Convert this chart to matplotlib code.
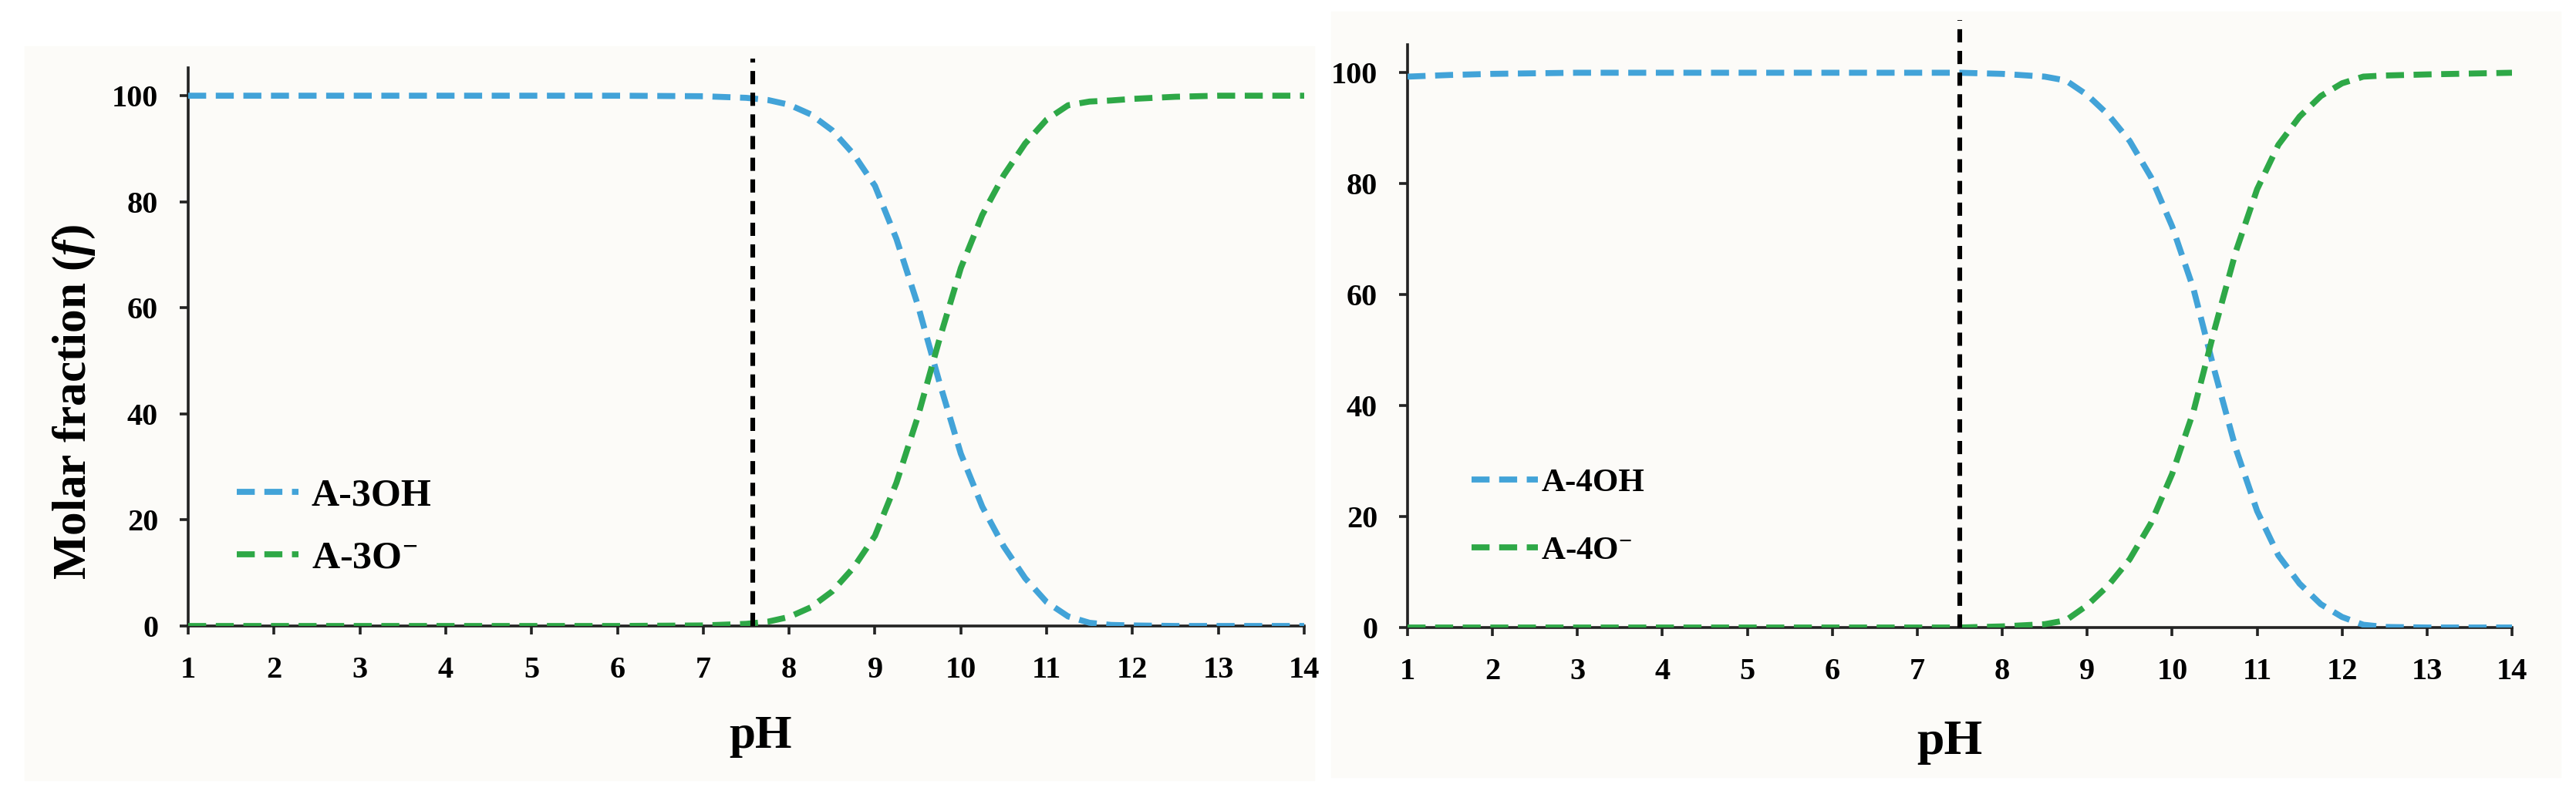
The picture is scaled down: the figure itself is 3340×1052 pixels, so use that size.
import numpy as np
import matplotlib
matplotlib.use("Agg")
from matplotlib import pyplot as plt
from matplotlib.patches import Rectangle

# ---- data ----
ph_left = [1, 2, 3, 4, 5, 6, 7, 7.5, 7.75, 8.0, 8.25, 8.5, 8.75, 9.0, 9.25, 9.5,
           9.75, 10.0, 10.25, 10.5, 10.75, 11.0, 11.25, 11.5, 11.75, 12, 12.5, 13, 14]
oh_left = [100, 100, 100, 100, 100, 100, 99.9, 99.6, 99.2, 98.3, 96.5, 93.5, 89.0, 83.0, 73.0, 60.5,
           46.0, 32.5, 22.5, 15.0, 9.0, 4.5, 1.8, 0.6, 0.2, 0.1, 0, 0, 0]
o_left = [0, 0, 0, 0, 0, 0, 0.1, 0.4, 0.8, 1.7, 3.5, 6.5, 11.0, 17.0, 27.0, 39.5,
          54.0, 67.5, 77.5, 85.0, 91.0, 95.5, 98.2, 98.9, 99.1, 99.4, 99.8, 100, 100]

ph_right = [1, 1.5, 2, 3, 4, 5, 6, 7, 7.5, 8.0, 8.5, 8.75, 9.0, 9.25, 9.5, 9.75, 10.0,
            10.25, 10.5, 10.75, 11.0, 11.25, 11.5, 11.75, 12.0, 12.25, 12.5, 13, 14]
oh_right = [99.3, 99.6, 99.8, 100, 100, 100, 100, 100, 100, 99.8, 99.3, 98.6, 96.0, 92.4, 87.7, 81.2, 72.3,
            61.1, 46.2, 32.2, 21.0, 13.0, 7.9, 4.2, 1.9, 0.5, 0.1, 0, 0]
o_right = [0, 0, 0, 0, 0, 0, 0, 0, 0, 0.2, 0.6, 1.3, 4.0, 7.6, 12.3, 18.8, 27.7,
           38.9, 53.8, 67.8, 79.0, 87.0, 92.1, 95.8, 98.1, 99.3, 99.5, 99.7, 100]

pka_line = [7.58, 7.5]
labels_left = ['A-3OH', 'A-3O$^{-}$']
labels_right = ['A-4OH', 'A-4O$^{-}$']

blue = '#42a3d8'
green = '#2ea847'
spine_col = '#222222'

plt.rcParams['font.family'] = 'Liberation Serif'
plt.rcParams['font.weight'] = 'bold'
plt.rcParams['mathtext.fontset'] = 'custom'
plt.rcParams['mathtext.rm'] = 'Liberation Serif:bold'
plt.rcParams['mathtext.it'] = 'Liberation Serif:bold:italic'
plt.rcParams['mathtext.bf'] = 'Liberation Serif:bold'

W, H = 3340, 1052
fig = plt.figure(figsize=(W / 100, H / 100), dpi=100)
fig.patch.set_facecolor('white')

# light panel backgrounds (behind the axes)
fig.patches.append(Rectangle((32 / W, 1 - 1012 / H), 1672 / W, 952 / H,
                             transform=fig.transFigure, color='#fcfbf8', zorder=-10))
fig.patches.append(Rectangle((1726 / W, 1 - 1008 / H), 1594 / W, 993 / H,
                             transform=fig.transFigure, color='#fcfbf8', zorder=-10))


def make_panel(rect, ymax, spine_top, ph, oh, o, vline, labels, leg_kw):
    ax = fig.add_axes(rect)
    ax.patch.set_alpha(0)
    dash = (0, (3.0, 1.6))
    ax.plot(ph, oh, color=blue, lw=5.6, linestyle=dash, label=labels[0], zorder=3)
    ax.plot(ph, o, color=green, lw=5.6, linestyle=dash, label=labels[1], zorder=3)
    ax.plot([vline, vline], [0, ymax], color='black', lw=4.4,
            linestyle=(0, (2.8, 1.8)), zorder=4, clip_on=False)

    ax.set_xlim(1, 14)
    ax.set_ylim(0, ymax)
    ax.set_xticks(np.arange(1, 15))
    ax.set_yticks(np.arange(0, 101, 20))
    for s in ['top', 'right']:
        ax.spines[s].set_visible(False)
    for s in ['left', 'bottom']:
        ax.spines[s].set_color(spine_col)
        ax.spines[s].set_linewidth(2.6)
    ax.spines['left'].set_bounds(0, spine_top)
    ax.tick_params(direction='out', length=8, width=2.6, color=spine_col,
                   labelsize=29, pad=20)
    for t in ax.get_xticklabels() + ax.get_yticklabels():
        t.set_fontweight('bold')

    ax.legend(frameon=False, borderpad=0, borderaxespad=0, **leg_kw)
    return ax


ax1 = make_panel([244 / W, 1 - 812 / H, 1447 / W, 736 / H], 107, 105.2,
                 ph_left, oh_left, o_left, pka_line[0], labels_left,
                 dict(loc='center left', bbox_to_anchor=(0.0435, 0.1735),
                      fontsize=36, handlelength=1.6, handletextpad=0.34,
                      labelspacing=0.7))
ax2 = make_panel([1825 / W, 1 - 814 / H, 1432 / W, 788 / H], 109.5, 105,
                 ph_right, oh_right, o_right, pka_line[1], labels_right,
                 dict(loc='center left', bbox_to_anchor=(0.058, 0.182),
                      fontsize=31, handlelength=2.0, handletextpad=0.1,
                      labelspacing=1.15))

fig.text(96 / W, 1 - 522 / H, 'Molar fraction ($f$)', rotation=90,
         ha='center', va='center', fontsize=44, fontweight='bold')
fig.text(986 / W, 1 - 970 / H, 'pH', ha='center', va='baseline',
         fontsize=44, fontweight='bold')
fig.text(2528 / W, 1 - 978 / H, 'pH', ha='center', va='baseline',
         fontsize=46, fontweight='bold')

fig.savefig('out.png', dpi=100)
